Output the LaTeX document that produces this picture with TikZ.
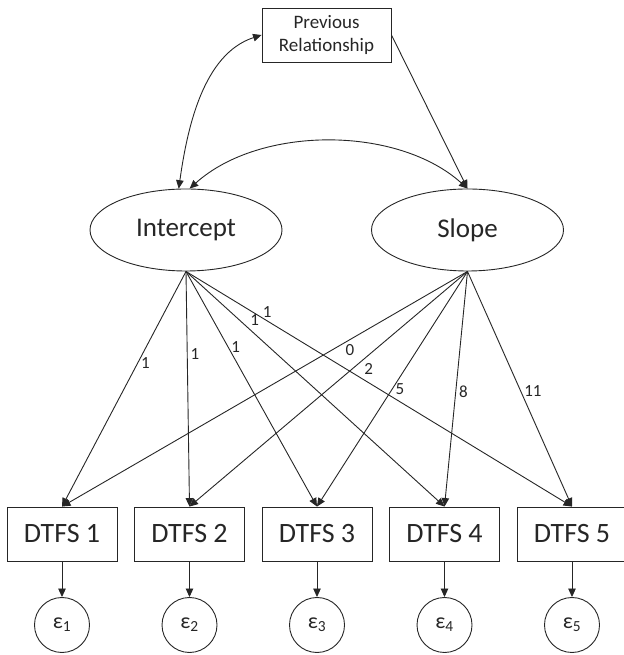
\documentclass[tikz,border=0pt]{standalone}
\usepackage{fontspec}
\setmainfont{Carlito}
\usetikzlibrary{arrows.meta,shapes.geometric}
\definecolor{semgrey}{RGB}{38, 38, 38}
\tikzstyle{sem} = [
  x=1pt,
  y=1pt,
  line width=0.9pt,
  color=semgrey,
  >={Triangle[length=8.5pt,width=7.5pt]},
]
\tikzstyle{covariate} = [
  draw,
  rectangle,
  align=center,
  inner sep=0pt,
  minimum width=129pt,
  minimum height=54pt,
  font=\fontsize{19}{23}\selectfont,
]
\tikzstyle{latent} = [
  draw,
  ellipse,
  inner sep=0pt,
  minimum width=192pt,
  minimum height=82pt,
  font=\fontsize{27}{30}\selectfont,
]
\tikzstyle{observed} = [
  draw,
  rectangle,
  inner sep=0pt,
  minimum width=110pt,
  minimum height=54pt,
  font=\fontsize{28}{30}\selectfont,
]
\tikzstyle{residual} = [
  draw,
  circle,
  inner sep=0pt,
  minimum size=55pt,
  font=\fontsize{22}{24}\selectfont,
]
\tikzstyle{loadlabel} = [
  inner sep=3pt,
  font=\fontsize{17}{18}\selectfont,
]

\begin{document}
\begin{tikzpicture}[sem]
            \def\rowy{121}

            \useasboundingbox (0,0) rectangle (623,655);

            % Covariate and growth factors
            \node[covariate] (prev) at (326.5,620) {Previous\\Relationship};
            \node[latent] (int) at (186,425) {Intercept};
            \node[latent] (slope) at (467.5,425) {Slope};

            % Repeated measures
            \node[observed] (dtfs1) at (62,\rowy) {DTFS 1};
            \node[observed] (dtfs2) at (189.5,\rowy) {DTFS 2};
            \node[observed] (dtfs3) at (317,\rowy) {DTFS 3};
            \node[observed] (dtfs4) at (444.5,\rowy) {DTFS 4};
            \node[observed] (dtfs5) at (572,\rowy) {DTFS 5};

            % Residuals
            \node[residual] (eps1) at (62,30) {ε\textsubscript{1}};
            \node[residual] (eps2) at (189.5,30) {ε\textsubscript{2}};
            \node[residual] (eps3) at (317,30) {ε\textsubscript{3}};
            \node[residual] (eps4) at (444.5,30) {ε\textsubscript{4}};
            \node[residual] (eps5) at (572,30) {ε\textsubscript{5}};

            % Covariances and regression
            \draw[<->] (int.100) to[out=82, in=198, looseness=0.9] (prev.west);
            \draw[<->] (int.85) to[out=42, in=138, looseness=0.87] (slope.north);
            \draw[->] (prev.east) -- (slope.north);

            % Intercept loadings
            \draw[->] (int.south) -- node[loadlabel, pos=0.39, right] {1} (dtfs1.north);
            \draw[->] (int.south) -- node[loadlabel, pos=0.35, right] {1} (dtfs2.north);
            \draw[->] (int.south) -- node[loadlabel, pos=0.32, right] {1} (dtfs3.north);
            \draw[->] (int.south) -- node[loadlabel, pos=0.24, above right, inner sep=2pt] {1} (dtfs4.north);
            \draw[->] (int.south) -- node[loadlabel, pos=0.21, above] {1} (dtfs5.north);

            % Slope loadings
            \draw[->] (slope.south) -- node[loadlabel, pos=0.29, below, inner sep=4pt] {0} (dtfs1.north);
            \draw[->] (slope.south) -- node[loadlabel, pos=0.38, below right, inner sep=2pt] {2} (dtfs2.north);
            \draw[->] (slope.south) -- node[loadlabel, pos=0.5, right] {5} (dtfs3.north);
            \draw[->] (slope.south) -- node[loadlabel, pos=0.51, right] {8} (dtfs4.north);
            \draw[->] (slope.south) -- node[loadlabel, pos=0.51, right] {11} (dtfs5.north);

            % Residual paths
            \draw[->] (dtfs1.south) -- (eps1.north);
            \draw[->] (dtfs2.south) -- (eps2.north);
            \draw[->] (dtfs3.south) -- (eps3.north);
            \draw[->] (dtfs4.south) -- (eps4.north);
            \draw[->] (dtfs5.south) -- (eps5.north);
          \end{tikzpicture}
\end{document}
